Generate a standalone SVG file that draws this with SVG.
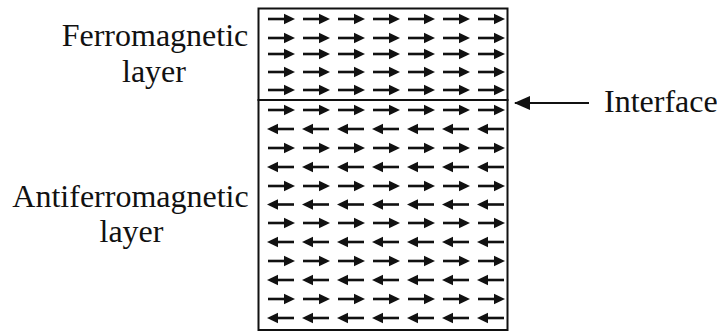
<svg xmlns="http://www.w3.org/2000/svg" xmlns:xlink="http://www.w3.org/1999/xlink" width="717" height="332" viewBox="0 0 717 332">
<style>
.lbl{font-family:"Liberation Serif","Times New Roman",serif;font-size:32px;fill:#111}
.frame{fill:none;stroke:#111;stroke-width:2}
.shaft{stroke:#111;stroke-width:2.6}
.head{fill:#111}
</style>
<defs>
<g id="ar">
<line class="shaft" x1="0" y1="0" x2="18" y2="0"/>
<polygon class="head" points="16,-5.2 27,0 16,5.2"/>
</g>
<g id="al">
<line class="shaft" x1="9" y1="0" x2="27" y2="0"/>
<polygon class="head" points="11,-5.2 0,0 11,5.2"/>
</g>
<g id="rowR">
<use xlink:href="#ar" x="268"/><use xlink:href="#ar" x="303"/><use xlink:href="#ar" x="338"/><use xlink:href="#ar" x="373"/><use xlink:href="#ar" x="408"/><use xlink:href="#ar" x="443"/><use xlink:href="#ar" x="478"/>
</g>
<g id="rowL">
<use xlink:href="#al" x="267"/><use xlink:href="#al" x="302"/><use xlink:href="#al" x="337"/><use xlink:href="#al" x="372"/><use xlink:href="#al" x="407"/><use xlink:href="#al" x="442"/><use xlink:href="#al" x="477"/>
</g>
<marker id="tip" markerWidth="16" markerHeight="14" refX="15" refY="7" orient="auto" markerUnits="userSpaceOnUse">
<polygon points="0,0 16,7 0,14" fill="#111"/>
</marker>
</defs>

<g id="ferro-label">
<text class="lbl" x="155" y="46" text-anchor="middle">Ferromagnetic</text>
<text class="lbl" x="154" y="82" text-anchor="middle">layer</text>
</g>
<g id="antiferro-label">
<text class="lbl" x="130.5" y="207" text-anchor="middle">Antiferromagnetic</text>
<text class="lbl" x="131.5" y="242" text-anchor="middle">layer</text>
</g>
<g id="interface-label">
<text class="lbl" x="604" y="112">Interface</text>
</g>

<g id="ferro-layer">
<rect class="frame" x="258.5" y="8.5" width="249" height="91.5"/>
<use xlink:href="#rowR" y="19"/>
<use xlink:href="#rowR" y="38"/>
<use xlink:href="#rowR" y="54"/>
<use xlink:href="#rowR" y="72"/>
<use xlink:href="#rowR" y="90"/>
</g>
<g id="antiferro-layer">
<rect class="frame" x="258.5" y="100" width="249" height="230"/>
<use xlink:href="#rowR" y="110"/>
<use xlink:href="#rowL" y="129"/>
<use xlink:href="#rowR" y="148"/>
<use xlink:href="#rowL" y="167"/>
<use xlink:href="#rowR" y="186"/>
<use xlink:href="#rowL" y="204.5"/>
<use xlink:href="#rowR" y="223"/>
<use xlink:href="#rowL" y="242"/>
<use xlink:href="#rowR" y="261"/>
<use xlink:href="#rowL" y="280"/>
<use xlink:href="#rowR" y="299"/>
<use xlink:href="#rowL" y="318"/>
</g>

<g id="connectors">
<line x1="589" y1="103" x2="515" y2="103" stroke="#111" stroke-width="2.2" marker-end="url(#tip)"/>
</g>
</svg>
